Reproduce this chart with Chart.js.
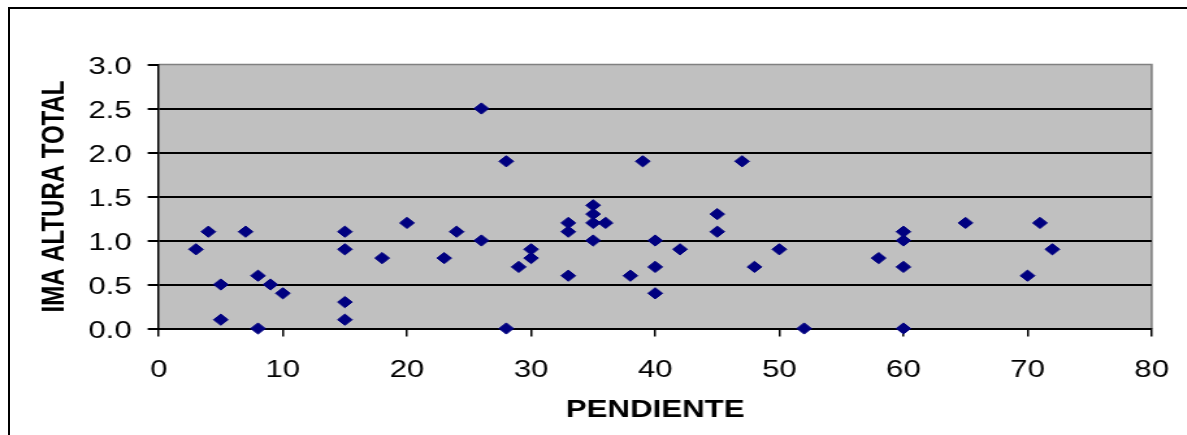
<!DOCTYPE html>
<html>
<head>
<meta charset="utf-8">
<title>Pendiente vs IMA altura total</title>
<script src="https://cdn.jsdelivr.net/npm/chart.js@4.4.0/dist/chart.umd.min.js"></script>
<style>
  html, body { margin: 0; padding: 0; background: #fff; overflow: hidden; }
  /* outer chart border, only the top and left edges fall inside the window */
  #frame {
    position: absolute; left: 8px; top: 7px; width: 1400px; height: 700px;
    border-left: 2px solid #000; border-top: 2px solid #000;
  }
  /* the chart is laid out narrow and stretched wide, like the old spreadsheet export */
  #wrap {
    position: absolute; left: 0; top: 0; width: 913px; height: 435px;
    transform: scaleX(1.3); transform-origin: 0 0;
  }
</style>
</head>
<body>
<div id="frame"></div>
<div id="wrap"><canvas id="chart"></canvas></div>
<script>
// slope (%) of each plot
const pendiente = [
  3, 4, 5, 5, 7, 8, 8, 9, 10,
  15, 15, 15, 15, 18, 20, 23, 24, 26, 26,
  28, 28, 29, 30, 30, 33, 33, 33,
  35, 35, 35, 35, 36, 38, 39, 40, 40, 40,
  42, 45, 45, 47, 48, 50, 52, 58,
  60, 60, 60, 60, 65, 70, 71, 72
];

// annual mean increment of total height
const alturaTotal = [
  0.9, 1.1, 0.5, 0.1, 1.1, 0.6, 0.0, 0.5, 0.4,
  1.1, 0.9, 0.3, 0.1, 0.8, 1.2, 0.8, 1.1, 2.5, 1.0,
  1.9, 0.0, 0.7, 0.9, 0.8, 1.2, 1.1, 0.6,
  1.4, 1.3, 1.2, 1.0, 1.2, 0.6, 1.9, 1.0, 0.7, 0.4,
  0.9, 1.3, 1.1, 1.9, 0.7, 0.9, 0.0, 0.8,
  1.1, 1.0, 0.7, 0.0, 1.2, 0.6, 1.2, 0.9
];

const xTicks = [0, 10, 20, 30, 40, 50, 60, 70, 80];
const yTicks = [0, 0.5, 1.0, 1.5, 2.0, 2.5, 3.0];

const FONT = '"Liberation Sans", Arial, Helvetica, sans-serif';

const points = pendiente.map((x, i) => ({ x: x, y: alturaTotal[i] }));

// grey plot area with a thin grey frame on top and right
const plotBackground = {
  id: 'plotBackground',
  beforeDraw(chart) {
    const { ctx, chartArea: a } = chart;
    ctx.save();
    ctx.fillStyle = '#c0c0c0';
    ctx.fillRect(a.left, a.top, a.width, a.height);
    ctx.strokeStyle = '#808080';
    ctx.lineWidth = 1.6;
    ctx.beginPath();
    ctx.moveTo(a.left, a.top);
    ctx.lineTo(a.right, a.top);
    ctx.lineTo(a.right, a.bottom);
    ctx.stroke();
    ctx.restore();
  }
};

const ctx = document.getElementById('chart').getContext('2d');

new Chart(ctx, {
  type: 'scatter',
  data: {
    datasets: [{
      data: points,
      pointStyle: 'rectRot',
      pointRadius: 5.6,
      pointBackgroundColor: '#000080',
      pointBorderColor: '#000080',
      pointBorderWidth: 1,
      clip: false
    }]
  },
  options: {
    responsive: true,
    maintainAspectRatio: false,
    animation: false,
    events: [],
    layout: { padding: { left: 0, right: 27.1, top: 64.5, bottom: 0 } },
    plugins: {
      legend: { display: false },
      tooltip: { enabled: false }
    },
    scales: {
      x: {
        type: 'linear',
        min: 0,
        max: 80,
        afterBuildTicks: (scale) => { scale.ticks = xTicks.map(v => ({ value: v })); },
        afterFit: (scale) => {
          scale.height = 106.5;
          // keep the label overhang from eating into the right margin
          scale.paddingLeft = 0;
          scale.paddingRight = 0;
        },
        grid: {
          drawOnChartArea: false,
          drawTicks: true,
          tickLength: 8,
          color: '#000',
          lineWidth: 1.5
        },
        border: { color: '#000', width: 2 },
        ticks: {
          color: '#000',
          font: { family: FONT, size: 24 },
          padding: 19,
          maxRotation: 0
        },
        title: {
          display: true,
          text: 'PENDIENTE',
          color: '#000',
          font: { family: FONT, size: 24, weight: 'bold', lineHeight: 1.2 },
          padding: { top: 0, bottom: 10.7 }
        }
      },
      y: {
        type: 'linear',
        min: 0,
        max: 3,
        afterBuildTicks: (scale) => { scale.ticks = yTicks.map(v => ({ value: v })); },
        afterFit: (scale) => { scale.width = 122.1; },
        grid: {
          color: (c) => (c.tick && c.tick.value === 3 ? 'rgba(0,0,0,0)' : '#000'),
          tickColor: '#000',
          lineWidth: 2,
          tickLength: 8.5
        },
        border: { color: '#000', width: 1.5 },
        ticks: {
          color: '#000',
          font: { family: FONT, size: 24 },
          padding: 12.3,
          labelOffset: 3,
          callback: (v) => Number(v).toFixed(1)
        },
        title: {
          display: true,
          text: 'IMA ALTURA TOTAL',
          color: '#000',
          font: { family: FONT, size: 24, weight: 'bold', lineHeight: 1.2 },
          padding: { top: 27.8, bottom: 0 }
        }
      }
    }
  },
  plugins: [plotBackground]
});
</script>
</body>
</html>
